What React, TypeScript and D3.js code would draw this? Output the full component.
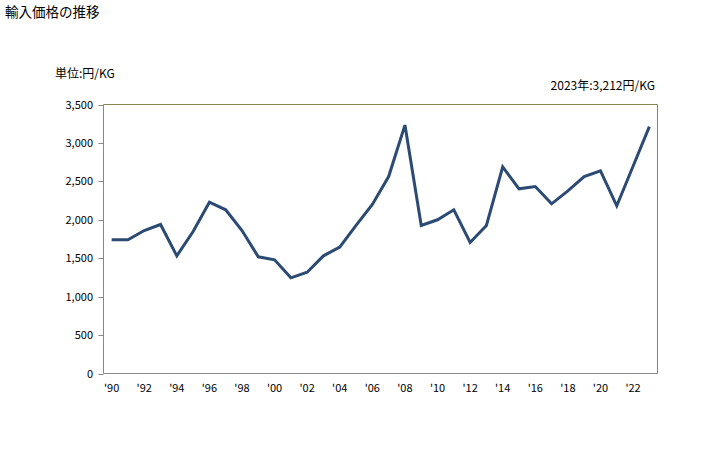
import React from "react";
import * as d3 from "d3";

const years: number[] = d3.range(1990, 2024);
const values: number[] = [
  1740, 1740, 1860, 1939, 1531, 1847, 2229, 2130, 1860, 1518,
  1479, 1245, 1318, 1531, 1644, 1926, 2199, 2563, 3232, 1926,
  2000, 2130, 1704, 1926, 2689, 2403, 2433, 2208, 2377, 2563,
  2637, 2182, 2697, 3212,
];
const yTicks: number[] = [0, 500, 1000, 1500, 2000, 2500, 3000, 3500];
const xTickYears: number[] = d3.range(1990, 2023, 2);
const title = "輸入価格の推移";
const unitLabel = "単位:円/KG";
const note = "2023年:3,212円/KG";

const W = 728, H = 450;
const L = 103.5, R = 657.5, T = 104.5, B = 373.5;

export default function App() {
  const x = d3.scaleBand<number>().domain(years).range([L, R]);
  const y = d3.scaleLinear().domain([0, 3500]).range([B, T]);
  const cx = (yr: number) => (x(yr) as number) + x.bandwidth() / 2;
  const line = d3
    .line<number>()
    .x((_, i) => cx(years[i]))
    .y((d) => y(d));
  const fmt = d3.format(",");
  const font = "'Noto Sans CJK JP', 'DejaVu Sans', sans-serif";
  return (
    <svg width={W} height={H} style={{ position: "absolute", left: 0, top: 0, background: "#fff" }} fontFamily={font}>
      <text x={5} y={17} fontSize={13.5} fill="#000">{title}</text>
      <text x={55} y={78} fontSize={12} fill="#000">{unitLabel}</text>
      <text x={655} y={90} fontSize={12} fill="#000" textAnchor="end">{note}</text>
      {/* borders */}
      <line x1={L} x2={R} y1={T} y2={T} stroke="#8c8650" strokeWidth={1} />
      <line x1={R} x2={R} y1={T} y2={B} stroke="#8c8650" strokeWidth={1} />
      <line x1={L} x2={L} y1={T} y2={B} stroke="#888" strokeWidth={1} />
      <line x1={L} x2={R} y1={B} y2={B} stroke="#888" strokeWidth={1} />
      {yTicks.map((t) => (
        <g key={t}>
          <line x1={L - 5} x2={L} y1={Math.round(y(t)) + 0.5} y2={Math.round(y(t)) + 0.5} stroke="#888" />
          <text x={93} y={y(t) + 4} fontSize={11} textAnchor="end" fill="#000">{fmt(t)}</text>
        </g>
      ))}
      {xTickYears.map((yr) => (
        <text key={yr} x={cx(yr)} y={392} fontSize={11} textAnchor="middle" fill="#000">
          {"'" + String(yr).slice(2)}
        </text>
      ))}
      <path d={line(values) || ""} fill="none" stroke="#2b4a74" strokeWidth={3} strokeLinejoin="miter" />
    </svg>
  );
}
